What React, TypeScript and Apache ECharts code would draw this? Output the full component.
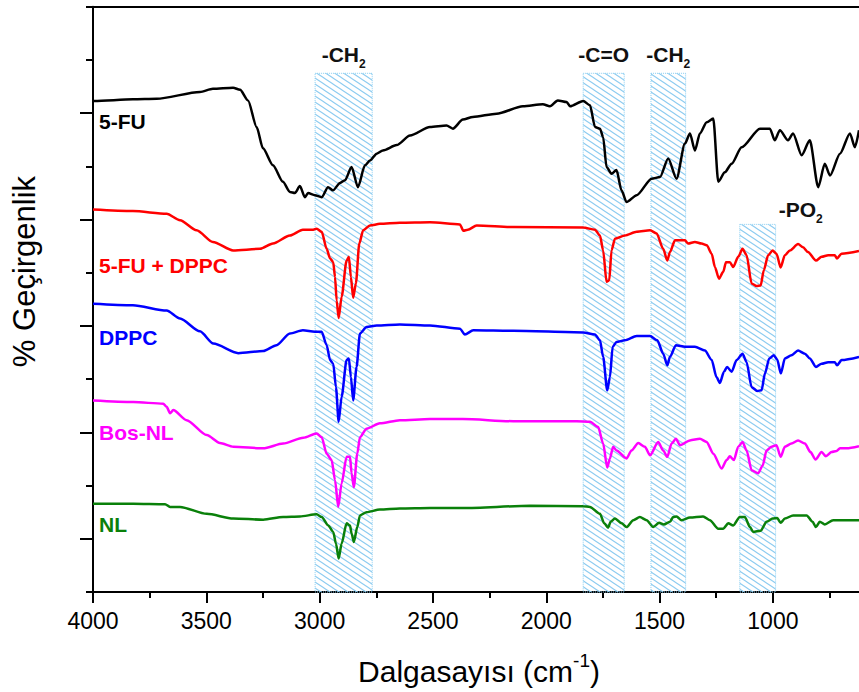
import React, { useEffect, useRef } from 'react';
import * as echarts from 'echarts';

// ---- data (wavenumber cm-1, relative transmittance) ----
const seriesNames = ['5-FU', '5-FU + DPPC', 'DPPC', 'Bos-NL', 'NL'];

const fu5: number[][] = [[4000,92.3],[3994,92.3],[3824,92.6],[3719,92.7],[3528,94.0],[3471,94.6],[3382,94.8],[3351,94.4],[3316,92.4],[3278,87.4],[3250,83.4],[3206,80.2],[3162,77.1],[3131,75.2],[3109,75.0],[3087,76.3],[3065,74.2],[3051,75.0],[3021,74.6],[2991,74.2],[2963,76.1],[2941,75.5],[2910,76.9],[2888,77.4],[2859,79.9],[2831,76.1],[2800,80.2],[2778,81.1],[2748,82.4],[2721,83.0],[2660,84.0],[2601,85.8],[2513,87.4],[2440,87.7],[2412,87.1],[2368,88.8],[2324,89.3],[2219,89.9],[2103,91.3],[2015,91.7],[1984,91.3],[1949,92.4],[1910,92.1],[1895,91.3],[1837,92.3],[1807,91.5],[1785,87.4],[1763,87.1],[1749,85.5],[1734,79.9],[1712,78.6],[1690,79.3],[1668,75.5],[1646,73.3],[1601,74.6],[1535,77.7],[1498,78.0],[1462,81.5],[1425,77.7],[1388,84.3],[1366,86.2],[1344,83.0],[1322,86.2],[1292,88.3],[1263,89.0],[1241,77.1],[1212,78.9],[1182,80.5],[1138,83.6],[1057,87.1],[1013,87.1],[992,84.9],[969,86.8],[933,84.9],[911,86.2],[873,82.1],[837,84.9],[800,76.1],[771,80.5],[748,78.3],[704,82.4],[660,86.2],[638,83.6],[620,86.8]];

const fuDppc: number[][] = [[4000,71.9],[3824,71.6],[3675,71.1],[3616,69.9],[3543,68.0],[3471,65.8],[3382,64.2],[3263,64.5],[3206,65.5],[3131,67.0],[3074,68.1],[3028,68.1],[3013,68.3],[2991,67.7],[2969,64.5],[2954,62.7],[2940,62.0],[2932,59.2],[2925,54.8],[2916,51.5],[2903,55.5],[2881,62.3],[2871,63.0],[2862,59.2],[2852,55.3],[2840,58.0],[2825,65.5],[2808,68.0],[2778,68.9],[2734,69.2],[2646,69.4],[2513,69.5],[2381,69.1],[2366,67.9],[2346,68.1],[2307,68.9],[2147,68.6],[1837,68.5],[1785,68.1],[1763,67.0],[1749,64.2],[1734,58.3],[1722,58.6],[1712,64.2],[1697,66.4],[1653,67.0],[1601,67.7],[1542,68.0],[1513,67.4],[1484,64.5],[1466,62.3],[1454,63.9],[1432,66.1],[1388,66.1],[1374,65.5],[1344,65.8],[1315,65.5],[1292,65.2],[1270,63.6],[1256,61.1],[1238,58.9],[1219,60.2],[1207,62.0],[1190,62.0],[1175,61.1],[1153,63.0],[1134,64.5],[1116,63.3],[1094,58.0],[1072,57.5],[1054,57.6],[1040,60.5],[1021,63.3],[1001,64.2],[984,63.6],[966,61.0],[947,63.3],[925,64.2],[889,65.4],[867,64.8],[845,63.9],[810,62.3],[785,63.0],[756,63.3],[727,63.3],[717,62.7],[697,63.6],[620,64.1]];

const dppc: number[][] = [[4000,54.2],[3824,53.9],[3675,52.9],[3616,51.4],[3528,49.0],[3469,46.7],[3359,44.9],[3249,45.3],[3190,46.4],[3131,48.6],[3074,49.2],[3021,48.9],[2991,48.9],[2969,46.4],[2954,43.6],[2940,42.9],[2928,38.5],[2916,32.0],[2903,36.7],[2881,43.6],[2871,43.9],[2862,40.4],[2852,36.0],[2837,42.3],[2822,48.6],[2793,49.8],[2748,50.1],[2646,50.3],[2513,50.1],[2381,49.5],[2359,48.4],[2322,49.2],[2146,49.1],[1837,48.8],[1785,48.4],[1763,47.3],[1749,44.2],[1731,37.9],[1719,40.4],[1707,46.1],[1690,47.0],[1653,47.3],[1601,48.1],[1542,48.1],[1510,47.3],[1484,44.8],[1466,42.6],[1454,44.2],[1428,46.4],[1388,46.1],[1344,46.1],[1300,45.4],[1270,43.6],[1249,40.4],[1234,39.3],[1216,41.4],[1202,42.3],[1182,41.4],[1160,43.6],[1134,44.8],[1116,43.2],[1094,38.5],[1069,37.8],[1050,37.9],[1035,41.1],[1016,43.9],[996,44.5],[981,43.7],[965,41.1],[947,43.9],[918,44.5],[889,45.4],[859,44.8],[837,43.9],[810,42.3],[785,42.9],[756,43.2],[727,43.2],[717,42.6],[697,43.6],[620,44.2]];

const bosNl: number[][] = [[4000,36.0],[3822,35.7],[3690,35.4],[3675,34.8],[3660,33.6],[3646,34.2],[3587,32.3],[3498,29.5],[3440,28.0],[3381,27.3],[3249,27.0],[3161,27.9],[3072,29.0],[3013,29.8],[2991,29.1],[2969,26.0],[2947,24.8],[2932,21.0],[2918,16.0],[2903,20.4],[2881,25.4],[2866,25.4],[2859,22.3],[2849,19.7],[2834,26.0],[2822,29.1],[2793,30.7],[2734,31.7],[2646,32.3],[2513,32.5],[2368,32.5],[2146,32.1],[1866,32.1],[1807,32.0],[1771,31.0],[1749,27.9],[1731,23.4],[1719,25.1],[1705,27.3],[1690,26.6],[1646,25.1],[1624,26.6],[1594,28.0],[1565,27.3],[1542,25.7],[1506,28.2],[1484,26.6],[1466,25.4],[1447,27.9],[1428,28.8],[1410,27.6],[1366,28.5],[1322,28.8],[1292,28.2],[1263,26.0],[1226,23.2],[1204,24.8],[1190,25.5],[1172,24.8],[1153,27.3],[1134,28.2],[1116,26.6],[1094,22.9],[1065,22.3],[1045,23.8],[1028,26.6],[1006,27.3],[984,27.6],[966,25.4],[947,27.3],[918,27.9],[889,28.5],[859,27.9],[834,26.3],[812,24.9],[785,26.3],[766,25.5],[741,26.3],[719,26.5],[704,27.0],[675,27.0],[620,27.4]];

const nl: number[][] = [[4000,16.6],[3822,16.6],[3682,16.5],[3660,16.0],[3616,16.0],[3498,14.7],[3381,13.8],[3249,13.6],[3161,14.1],[3087,14.2],[3013,14.6],[2991,14.1],[2962,12.5],[2940,11.3],[2928,9.1],[2916,6.3],[2903,9.1],[2881,12.9],[2866,12.5],[2859,11.0],[2849,9.4],[2834,12.2],[2822,14.4],[2793,15.0],[2734,15.5],[2646,15.7],[2513,15.8],[2366,15.8],[2072,16.2],[1837,16.1],[1807,16.0],[1763,14.7],[1744,12.9],[1727,12.1],[1716,13.2],[1697,13.8],[1668,12.9],[1646,12.2],[1616,13.5],[1587,14.1],[1557,13.5],[1528,12.2],[1502,13.0],[1481,12.7],[1454,13.2],[1440,14.1],[1425,14.2],[1403,13.5],[1366,14.0],[1308,14.2],[1278,13.5],[1241,11.9],[1219,11.9],[1197,12.9],[1175,12.5],[1146,14.1],[1124,14.1],[1101,12.2],[1087,11.3],[1054,11.5],[1028,13.2],[1001,13.8],[981,13.9],[966,13.0],[947,13.8],[911,14.4],[851,14.4],[825,13.2],[810,12.2],[793,13.2],[771,12.7],[734,13.5],[620,13.5]];

const seriesData = [fu5, fuDppc, dppc, bosNl, nl];

// shaded bands
const bandLabels = ['-CH', '-C=O', '-CH', '-PO'];
const bandSubs = ['2', '', '2', '2'];
const bandHigh = [3020, 1837, 1538, 1146];
const bandLow = [2768, 1656, 1385, 988];
const bandTop = [97.5, 97.5, 97.5, 69.1];

// ---- styles ----
const F = "'Liberation Sans', Arial, Helvetica, sans-serif";
const colors = ['#000000', '#ff0000', '#0000ff', '#ff00ff', '#0a800a'];
const nameLabelY = [121.5, 265, 337, 432.5, 524];
const bandLabelDistance = [3, 3, 3, -1];
const bandLabelOffset = [[0, 0], [0, 0], [0, 0], [43, 0]];

export default function App() {
  const ref = useRef<HTMLDivElement>(null);
  useEffect(() => {
    const el = ref.current;
    if (!el) return;
    const chart = echarts.init(el, null, { renderer: 'svg' });

    const cv = document.createElement('canvas');
    cv.width = 9;
    cv.height = 6;
    const ctx = cv.getContext('2d');
    if (ctx) {
      ctx.strokeStyle = '#8ccbf0';
      ctx.lineWidth = 1.1;
      ctx.beginPath();
      ctx.moveTo(-9, -6); ctx.lineTo(18, 12);
      ctx.moveTo(0, -6); ctx.lineTo(18, 6);
      ctx.moveTo(-9, 0); ctx.lineTo(9, 12);
      ctx.stroke();
    }
    const hatch: any = { image: cv, repeat: 'repeat' };

    const axisLs = { color: '#000', width: 2 };

    const lineSeries = seriesData.map((d, i) => ({
      type: 'line',
      name: seriesNames[i],
      data: d,
      symbol: 'none',
      showSymbol: false,
      smooth: 0.25,
      smoothMonotone: 'x',
      clip: true,
      z: 2,
      lineStyle: { color: colors[i], width: 2.5 },
      itemStyle: { color: colors[i] },
    }));

    const bands = bandLabels.map((t, i) => [
      {
        xAxis: bandHigh[i],
        yAxis: bandTop[i],
        label: {
          distance: bandLabelDistance[i],
          offset: bandLabelOffset[i],
          formatter: '{a|' + t + '}' + (bandSubs[i] ? '{s|' + bandSubs[i] + '}' : ''),
        },
      },
      { xAxis: bandLow[i], yAxis: 0 },
    ]);

    const option: any = {
      animation: false,
      backgroundColor: '#ffffff',
      grid: {
        left: 93, top: 6.8, width: 793.2, height: 585.2,
        containLabel: false, outerBoundsMode: 'none',
      },
      xAxis: [
        {
          type: 'value', min: 500, max: 4000, interval: 500, inverse: true, position: 'bottom',
          axisLine: { show: true, onZero: false, lineStyle: axisLs },
          axisTick: { show: true, inside: false, length: 11, lineStyle: axisLs },
          minorTick: { show: true, splitNumber: 2, length: 6, lineStyle: axisLs },
          axisLabel: {
            show: true, margin: 17, fontSize: 23, color: '#000', fontFamily: F,
            formatter: (v: number) => (v === 500 ? '' : String(v)),
          },
          splitLine: { show: false },
          minorSplitLine: { show: false },
        },
        {
          type: 'value', min: 500, max: 4000, inverse: true, position: 'top',
          axisLine: { show: true, onZero: false, lineStyle: axisLs },
          axisTick: { show: false },
          axisLabel: { show: false },
          splitLine: { show: false },
        },
      ],
      yAxis: {
        type: 'value', min: 0, max: 110, interval: 20,
        axisLine: { show: true, onZero: false, lineStyle: axisLs },
        axisTick: { show: true, inside: false, length: 7, lineStyle: axisLs },
        minorTick: { show: true, splitNumber: 2, length: 13, lineStyle: axisLs },
        axisLabel: { show: false },
        splitLine: { show: false },
        minorSplitLine: { show: false },
      },
      series: [
        ...lineSeries,
        {
          type: 'line',
          name: 'bands',
          data: [],
          silent: true,
          z: 3,
          markArea: {
            silent: true,
            itemStyle: { color: hatch, borderColor: '#8ccff2', borderWidth: 1, borderType: 'dotted' },
            label: {
              show: true,
              position: 'top',
              rich: {
                a: { fontSize: 21, fontWeight: 'bold', fontFamily: F, color: '#111', lineHeight: 30 },
                s: { fontSize: 12, fontWeight: 'bold', fontFamily: F, color: '#111', lineHeight: 12, verticalAlign: 'bottom' },
              },
            },
            data: bands,
          },
        },
      ],
      graphic: [
        ...seriesNames.map((n, i) => ({
          type: 'text',
          x: 99,
          y: nameLabelY[i],
          z: 10,
          style: {
            text: n, fill: colors[i], fontSize: 21, fontWeight: 'bold', fontFamily: F,
            align: 'left', verticalAlign: 'middle',
          },
        })),
        {
          type: 'text',
          x: 24,
          y: 271.5,
          rotation: Math.PI / 2,
          style: {
            text: '% Geçirgenlik', fill: '#000', fontSize: 31, fontFamily: F,
            align: 'center', verticalAlign: 'middle',
          },
        },
        {
          type: 'text',
          x: 479,
          y: 671,
          style: {
            text: '{a|Dalgasayısı (cm}{s|-1}{a|)}',
            align: 'center', verticalAlign: 'middle',
            rich: {
              a: { fontSize: 30, fontFamily: F, fill: '#000', lineHeight: 40 },
              s: { fontSize: 19, fontFamily: F, fill: '#000', lineHeight: 20, verticalAlign: 'top' },
            },
          },
        },
      ],
    };

    chart.setOption(option);
    return () => {
      chart.dispose();
    };
  }, []);

  return (
    <div
      ref={ref}
      style={{ position: 'absolute', left: 0, top: 0, width: 859, height: 692, background: '#fff' }}
    />
  );
}
